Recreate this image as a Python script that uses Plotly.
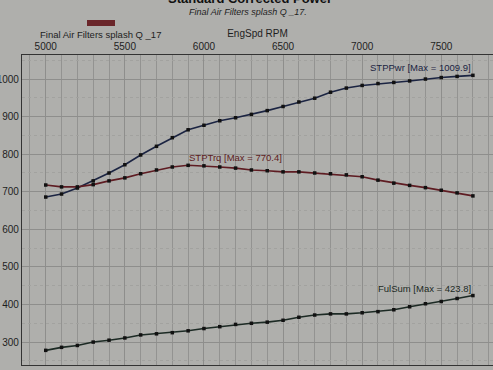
import plotly.graph_objects as go

rpm = [5000, 5100, 5200, 5300, 5400, 5500, 5600, 5700, 5800, 5900,
       6000, 6100, 6200, 6300, 6400, 6500, 6600, 6700, 6800, 6900,
       7000, 7100, 7200, 7300, 7400, 7500, 7600, 7700]
stp_pwr = [686, 694, 710, 729, 750, 772, 798, 821, 844, 865,
           877, 889, 897, 906, 916, 927, 939, 949, 965, 976,
           983, 988, 991, 995, 1000, 1004, 1007, 1009.9]
stp_trq = [718, 713, 713, 719, 729, 737, 748, 758, 766, 770.4,
           769, 766, 763, 758, 756, 753, 753, 750, 748, 745,
           740, 731, 723, 717, 711, 704, 697, 689]
ful_sum = [278, 286, 291, 300, 305, 311, 319, 322, 325, 330,
           336, 341, 347, 350, 353, 358, 366, 372, 375, 375,
           378, 381, 386, 394, 402, 408, 416, 423.8]
y_ticks = [300, 400, 500, 600, 700, 800, 900, 1000]
x_ticks = [5000, 5500, 6000, 6500, 7000, 7500]

W, H = 493, 370
L, R, T, B = 22, 0, 55, 5
PW, PH = W - L - R, H - T - B

def px(x):
    return (x - L) / PW

def py(y):
    return (H - B - y) / PH

bg = "#afafac"
txt = "#1e1e1e"

fig = go.Figure()
series = [
    ("STPPwr", stp_pwr, "#1b2442"),
    ("STPTrq", stp_trq, "#5e1c22"),
    ("FulSum", ful_sum, "#1c2a24"),
]
for name, vals, col in series:
    fig.add_trace(go.Scatter(
        x=rpm, y=vals, mode="lines+markers", name=name,
        line=dict(color=col, width=1.6),
        marker=dict(symbol="square", size=3.5, color="#111111"),
        showlegend=False, hoverinfo="skip"))

fig.update_layout(
    width=W, height=H,
    margin=dict(l=L, r=R, t=T, b=B, autoexpand=False),
    paper_bgcolor=bg, plot_bgcolor=bg,
    font=dict(family="Liberation Sans, Arial, sans-serif", size=10, color=txt),
    xaxis=dict(
        side="top", range=[4850, 7827], tickvals=x_ticks,
        ticktext=[str(v) for v in x_ticks], ticks="", automargin=False,
        tickfont=dict(size=10, color=txt),
        showgrid=True, gridcolor="#8e8e8c", gridwidth=0.8,
        minor=dict(dtick=100, tick0=5000, showgrid=True, gridcolor="#939391", gridwidth=0.8),
        showline=True, linecolor="#333333", linewidth=1, mirror=True,
        zeroline=False,
        title=dict(text="EngSpd RPM", font=dict(size=10, color=txt), standoff=1)),
    yaxis=dict(
        range=[239, 1064], tickvals=y_ticks,
        ticktext=[str(v) for v in y_ticks], ticks="", automargin=False,
        tickfont=dict(size=10, color=txt),
        showgrid=True, gridcolor="#8e8e8c", gridwidth=0.8,
        minor=dict(dtick=50, tick0=300, showgrid=True, gridcolor="#a2a29f", gridwidth=0.6, griddash="dot"),
        showline=True, linecolor="#333333", linewidth=1.2, mirror=True,
        zeroline=False),
)

# title (cut at top in the reference), subtitle, legend swatch
fig.add_annotation(x=px(250), y=py(7), xref="paper", yref="paper",
                   text="<b>Standard Corrected Power</b>", showarrow=False,
                   xanchor="center", yanchor="bottom", borderpad=0,
                   font=dict(size=13, color="#111111"))
fig.add_annotation(x=px(248), y=py(12), xref="paper", yref="paper",
                   text="<i>Final Air Filters splash Q _17.</i>", showarrow=False,
                   xanchor="center", yanchor="middle", borderpad=0,
                   font=dict(size=9, color=txt))
fig.add_shape(type="rect", xref="paper", yref="paper",
              x0=px(87), x1=px(115), y0=py(26), y1=py(20),
              fillcolor="#6a262a", line=dict(width=0))
fig.add_annotation(x=px(100), y=py(34), xref="paper", yref="paper",
                   text="Final Air Filters splash Q _17", showarrow=False,
                   xanchor="center", yanchor="middle",
                   font=dict(size=9.5, color=txt))

# max labels
fig.add_annotation(x=rpm[-1], y=stp_pwr[-1], xref="x", yref="y",
                   text="STPPwr [Max = 1009.9]", showarrow=False,
                   xanchor="right", yanchor="bottom",
                   font=dict(size=9.5, color="#1b2442"))
fig.add_annotation(x=rpm[9], y=stp_trq[9], xref="x", yref="y",
                   text="STPTrq [Max = 770.4]", showarrow=False,
                   xanchor="left", yanchor="bottom", xshift=-1,
                   font=dict(size=9.5, color="#5e1c22"))
fig.add_annotation(x=rpm[-1], y=ful_sum[-1], xref="x", yref="y",
                   text="FulSum [Max = 423.8]", showarrow=False,
                   xanchor="right", yanchor="bottom",
                   font=dict(size=9.5, color="#1c2a24"))

fig.write_html("out.html",
               config={"displayModeBar": False},
               post_script="document.body.style.margin='0';document.body.style.padding='0';")
